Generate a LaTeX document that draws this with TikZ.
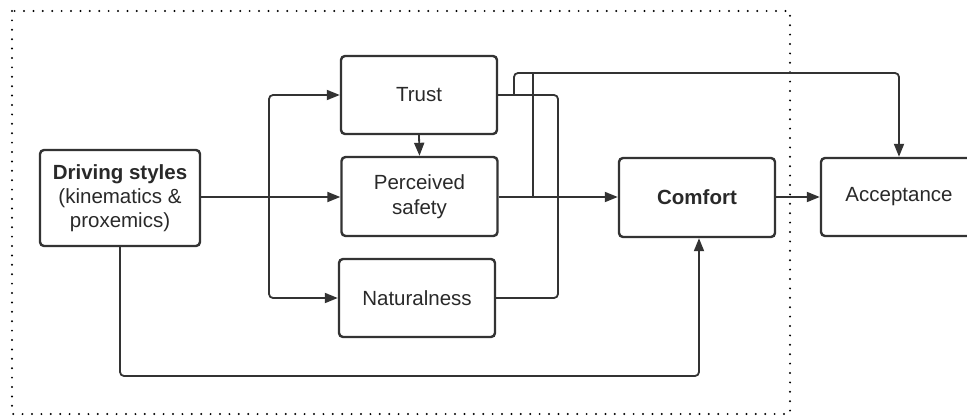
\documentclass[tikz,border=0pt]{standalone}
\usepackage{fontspec}
\setmainfont{Liberation Sans}
\usetikzlibrary{arrows.meta}
\definecolor{ink}{HTML}{333333}
\tikzset{
  box/.style={draw=ink, line width=2.4pt, rounded corners=4pt, text=ink!80!black, align=center,
    inner sep=0pt, font=\fontsize{20.5}{24}\selectfont},
  conn/.style={draw=ink, line width=1.8pt, rounded corners=4pt},
  arr/.style={conn, -{Triangle[length=13pt,width=10pt]}},
  frame/.style={draw=black, line width=2.2pt, dash pattern=on 0pt off 9.4pt, line cap=round}
}
\begin{document}
\begin{tikzpicture}[x=1pt,y=-1pt]
\useasboundingbox (0,0) rectangle (967,420);
\begin{scope}
\clip (0,0) rectangle (967,420);
\draw[frame] (12,11) rectangle (790,414);
\node[box, minimum width=160pt, minimum height=96pt] (drive) at (120,198)
  {\textbf{Driving styles}\\(kinematics \&\\proxemics)};
\node[box, minimum width=156pt, minimum height=78pt] (trust) at (419,95) {Trust};
\node[box, minimum width=156pt, minimum height=79pt] (safety) at (419.5,196.5) {Perceived\\[1pt]safety};
\node[box, minimum width=156pt, minimum height=78pt] (natural) at (417,298) {Naturalness};
\node[box, minimum width=156pt, minimum height=79pt] (comfort) at (697,197.5) {\textbf{Comfort}};
\node[box, minimum width=156pt, minimum height=78pt] (accept) at (899,197) {Acceptance};

\coordinate (j1) at (269,197);
\coordinate (m2) at (558,197);
\coordinate (hopA) at (514,95);
\coordinate (hopB) at (533,197);
\coordinate (top) at (899,73);
\coordinate (low) at (699,376);

\draw[conn] (drive.east |- j1) -- (j1);
\draw[arr] (j1) -- (safety.west |- j1);
\draw[arr] (j1) |- (trust.west);
\draw[arr] (j1) |- (natural.west);
\draw[arr] (trust.south) -- (safety.north);
\draw[conn] (trust.east) -| (m2);
\draw[conn] (natural.east) -| (m2);
\draw[arr] (safety.east |- m2) -- (comfort.west |- m2);
\draw[arr] (hopA) |- (top) -- (accept.north);
\draw[conn] (hopB) -- (hopB |- top);
\draw[arr] (comfort.east |- m2) -- (accept.west |- m2);
\draw[arr] (drive.south) |- (low) -- (comfort.south -| low);
\end{scope}
\end{tikzpicture}
\end{document}
